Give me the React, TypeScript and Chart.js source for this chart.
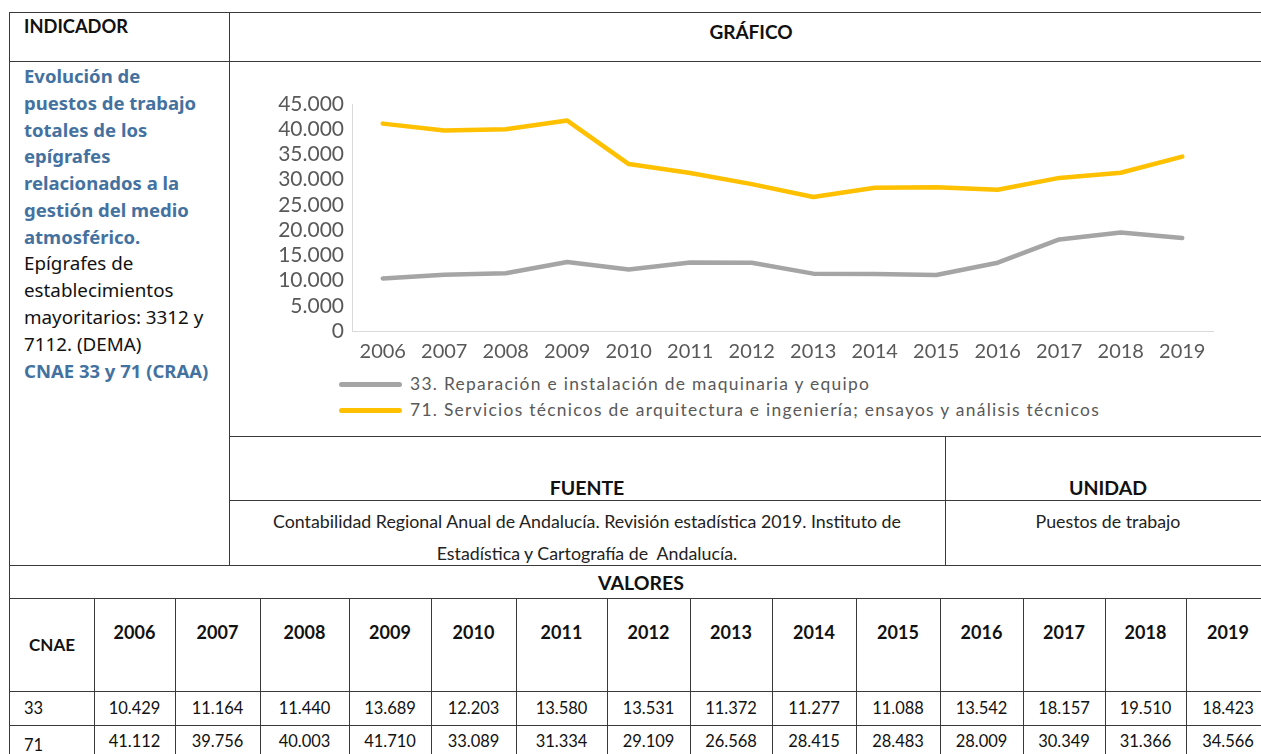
import React, { useEffect, useRef } from "react";
import { Chart, registerables } from "chart.js";

Chart.register(...registerables);

const years = ["2006", "2007", "2008", "2009", "2010", "2011", "2012", "2013", "2014", "2015", "2016", "2017", "2018", "2019"];
const cnae33 = [10429, 11164, 11440, 13689, 12203, 13580, 13531, 11372, 11277, 11088, 13542, 18157, 19510, 18423];
const cnae71 = [41112, 39756, 40003, 41710, 33089, 31334, 29109, 26568, 28415, 28483, 28009, 30349, 31366, 34566];
const seriesCodes = ["33", "71"];
const seriesLabels = [
  "33. Reparación e instalación de maquinaria y equipo",
  "71. Servicios técnicos de arquitectura e ingeniería; ensayos y análisis técnicos",
];
const seriesColors = ["#A5A5A5", "#FFC000"];
const yMax = 45000;
const yStep = 5000;

const blueLines = [
  "Evolución de",
  "puestos de trabajo",
  "totales de los",
  "epígrafes",
  "relacionados a la",
  "gestión del medio",
  "atmosférico.",
];
const blackLines = ["Epígrafes de", "establecimientos", "mayoritarios: 3312 y", "7112. (DEMA)"];
const blueLast = "CNAE 33 y 71 (CRAA)";
const sourceLines = [
  "Contabilidad Regional Anual de Andalucía. Revisión estadística 2019. Instituto de",
  "Estadística y Cartografía de  Andalucía.",
];
const unitText = "Puestos de trabajo";

const fmt = (v: number) => String(v).replace(/\B(?=(\d{3})+(?!\d))/g, ".");

const FONT = "Lato, 'Noto Sans', sans-serif";
const NOTO = "'Noto Sans', Lato, sans-serif";
const LINE = "#3a3a3a";

const colEdges = [9, 94, 175, 260, 349, 431, 516, 607, 690, 772, 856, 940, 1023, 1105, 1186, 1270];

function H({ y, x1, x2 }: { y: number; x1: number; x2: number }) {
  return <div style={{ position: "absolute", left: x1, top: y, width: x2 - x1 + 1, height: 1, background: LINE }} />;
}
function V({ x, y1, y2 }: { x: number; y1: number; y2: number }) {
  return <div style={{ position: "absolute", left: x, top: y1, width: 1, height: y2 - y1 + 1, background: LINE }} />;
}
function T({
  x,
  y,
  text,
  size = 17,
  bold = false,
  color = "#222",
  center = false,
  spacing = 0,
  family = FONT,
}: {
  x: number;
  y: number;
  text: string;
  size?: number;
  bold?: boolean;
  color?: string;
  center?: boolean;
  spacing?: number;
  family?: string;
}) {
  const lh = size * 1.4;
  const style: React.CSSProperties = {
    position: "absolute",
    top: y - lh / 2,
    height: lh,
    lineHeight: lh + "px",
    fontSize: size,
    fontFamily: family,
    fontWeight: bold ? 700 : 400,
    color,
    whiteSpace: "pre",
    letterSpacing: spacing,
  };
  if (center) {
    style.left = x - 600;
    style.width = 1200;
    style.textAlign = "center";
  } else {
    style.left = x;
  }
  return <div style={style}>{text}</div>;
}

function LineChart() {
  const ref = useRef<HTMLCanvasElement>(null);
  useEffect(() => {
    if (!ref.current) return;
    const tickColor = "#595959";
    const chart = new Chart(ref.current, {
      type: "line",
      data: {
        labels: years,
        datasets: [cnae33, cnae71].map((d, i) => ({
          label: seriesLabels[i],
          data: d,
          borderColor: seriesColors[i],
          backgroundColor: seriesColors[i],
          borderWidth: 4.5,
          pointRadius: 0,
          borderCapStyle: "round" as const,
          borderJoinStyle: "round" as const,
          tension: 0,
          fill: false,
        })),
      },
      options: {
        responsive: false,
        animation: false,
        devicePixelRatio: 1,
        layout: { padding: { left: 0, right: 45, top: 41, bottom: 0 } },
        plugins: { legend: { display: false }, tooltip: { enabled: false } },
        scales: {
          x: {
            offset: true,
            grid: { display: false, drawTicks: false },
            border: { color: "#D9D9D9", width: 1 },
            ticks: { color: tickColor, font: { family: FONT, size: 20 }, padding: 9, maxRotation: 0, autoSkip: false },
            afterFit: (s: any) => {
              s.height = 32;
            },
          },
          y: {
            min: 0,
            max: yMax,
            grid: { display: false, drawTicks: false },
            border: { color: "#D9D9D9", width: 1 },
            ticks: {
              stepSize: yStep,
              autoSkip: false,
              color: tickColor,
              font: { family: FONT, size: 21 },
              padding: 8,
              callback: (v: any) => fmt(Number(v)),
            },
            afterFit: (s: any) => {
              s.width = 120;
            },
          },
        },
      },
    });
    return () => chart.destroy();
  }, []);
  return (
    <canvas
      ref={ref}
      width={1026}
      height={300}
      style={{ position: "absolute", left: 232, top: 63, width: 1026, height: 300 }}
    />
  );
}

export default function App() {
  const rows = [cnae33, cnae71];
  return (
    <div style={{ position: "fixed", left: 0, top: 0, width: 1261, height: 754, overflow: "hidden", background: "#fff" }}>
      {/* grid lines */}
      <H y={12} x1={9} x2={1270} />
      <H y={61} x1={9} x2={1270} />
      <V x={9} y1={12} y2={754} />
      <V x={229} y1={12} y2={565} />
      <H y={436} x1={229} x2={1270} />
      <V x={945} y1={436} y2={565} />
      <H y={500} x1={229} x2={1270} />
      <H y={565} x1={9} x2={1270} />
      <H y={598} x1={9} x2={1270} />
      <H y={691} x1={9} x2={1270} />
      <H y={725} x1={9} x2={1270} />
      {colEdges.slice(1).map((x, i) => (
        <V key={"c" + i} x={x} y1={598} y2={754} />
      ))}

      {/* header */}
      <T x={24} y={27} text="INDICADOR" size={18.3} bold color="#111" />
      <T x={751} y={32} text="GRÁFICO" size={19} bold color="#111" center />

      {/* left description */}
      {blueLines.map((t, i) => (
        <T key={"b" + i} x={24} y={76 + i * 26.8} text={t} size={18.5} bold color="#4472A0" family={NOTO} />
      ))}
      {blackLines.map((t, i) => (
        <T key={"k" + i} x={24} y={76 + (blueLines.length + i) * 26.8} text={t} size={18.8} color="#111" family={NOTO} />
      ))}
      <T
        x={24}
        y={76 + (blueLines.length + blackLines.length) * 26.8}
        text={blueLast}
        size={18.5}
        bold
        color="#4472A0"
        family={NOTO}
      />

      {/* chart */}
      <LineChart />
      {seriesLabels.map((lab, i) => (
        <React.Fragment key={"l" + i}>
          <div
            style={{
              position: "absolute",
              left: 339,
              top: 384 + i * 26 - 2.5,
              width: 63,
              height: 5,
              borderRadius: 3,
              background: seriesColors[i],
            }}
          />
          <T x={410} y={384 + i * 26} text={lab} size={17.4} color="#595959" spacing={1.3} />
        </React.Fragment>
      ))}

      {/* source / unit */}
      <T x={587} y={488} text="FUENTE" size={19.5} bold color="#111" center />
      <T x={1108} y={488} text="UNIDAD" size={19.5} bold color="#111" center />
      {sourceLines.map((t, i) => (
        <T key={"s" + i} x={587} y={521 + i * 32} text={t} size={17.8} color="#222" center />
      ))}
      <T x={1108} y={521} text={unitText} size={17.8} color="#222" center />

      {/* values table */}
      <T x={641} y={583} text="VALORES" size={19.5} bold color="#111" center />
      <T x={52} y={645} text="CNAE" size={17} bold color="#111" center />
      {years.map((yr, i) => (
        <T key={"y" + i} x={(colEdges[i + 1] + colEdges[i + 2]) / 2} y={633} text={yr} size={18} bold color="#111" center />
      ))}
      {rows.map((r, ri) => (
        <React.Fragment key={"r" + ri}>
          <T x={24} y={ri === 0 ? 709 : 746} text={seriesCodes[ri]} size={16.5} color="#111" />
          {r.map((v, i) => (
            <T
              key={"v" + ri + i}
              x={(colEdges[i + 1] + colEdges[i + 2]) / 2}
              y={ri === 0 ? 709 : 742}
              text={fmt(v)}
              size={16.5}
              color="#111"
              center
            />
          ))}
        </React.Fragment>
      ))}
    </div>
  );
}
